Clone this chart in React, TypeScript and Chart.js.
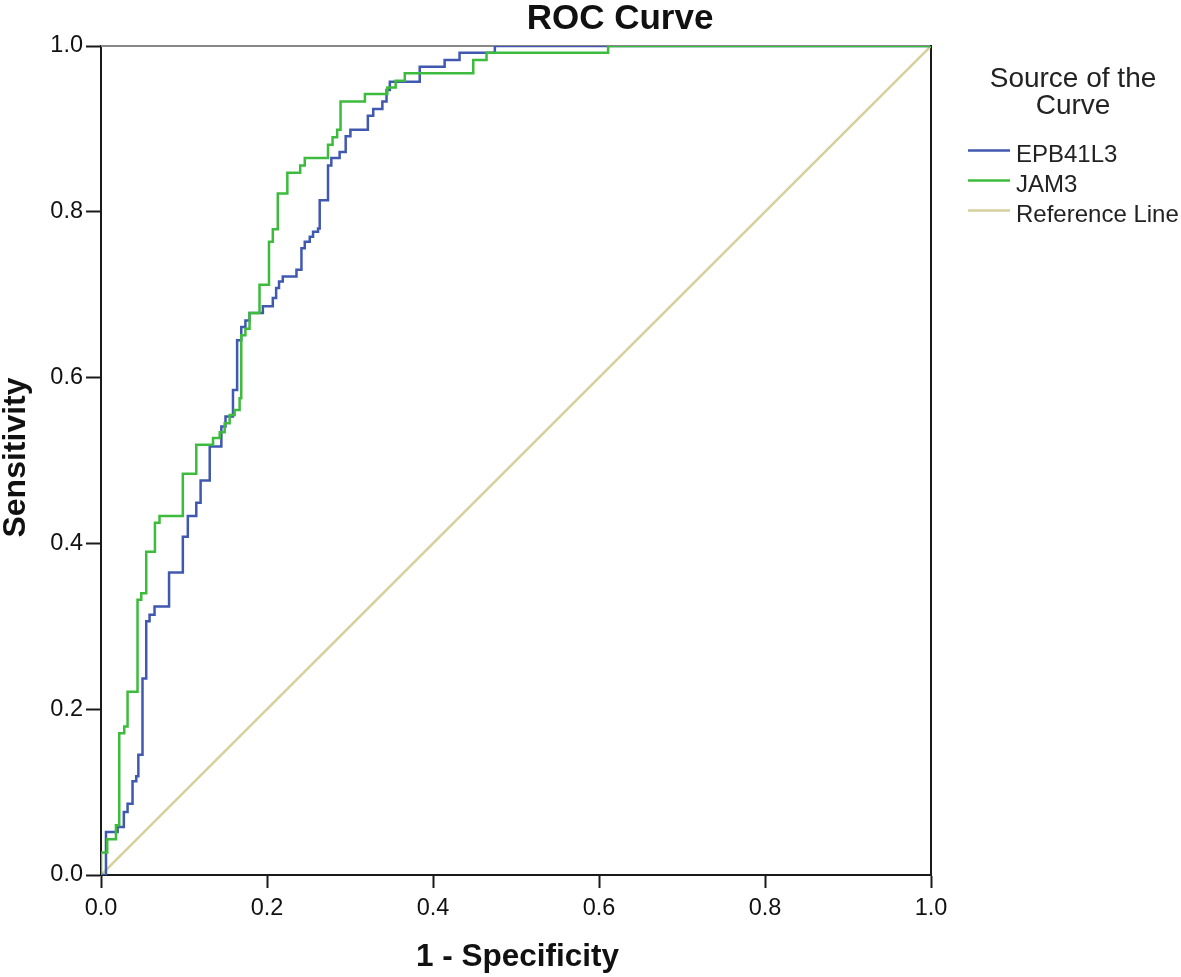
import React, { useEffect, useRef } from 'react';
import { Chart, registerables } from 'chart.js';

Chart.register(...registerables);

// ---- Data ----
const epbFpr = [0, 0.006, 0.020, 0.0275, 0.032, 0.038, 0.0425, 0.045, 0.050, 0.0545, 0.0585, 0.0645, 0.082, 0.0986, 0.1046, 0.1148, 0.120, 0.131, 0.145, 0.150, 0.159, 0.164, 0.169, 0.174, 0.179, 0.195, 0.207, 0.211, 0.2145, 0.219, 0.2355, 0.2415, 0.2455, 0.2515, 0.2555, 0.2615, 0.2635, 0.2735, 0.2775, 0.2875, 0.2948, 0.3005, 0.3215, 0.328, 0.339, 0.344, 0.348, 0.384, 0.414, 0.432, 0.4745, 1.0];
const epbTpr = [0, 0.052, 0.058, 0.076, 0.086, 0.113, 0.119, 0.145, 0.237, 0.306, 0.314, 0.324, 0.365, 0.408, 0.433, 0.449, 0.476, 0.517, 0.541, 0.553, 0.585, 0.645, 0.661, 0.669, 0.678, 0.686, 0.696, 0.708, 0.716, 0.722, 0.730, 0.756, 0.764, 0.770, 0.776, 0.780, 0.814, 0.856, 0.865, 0.872, 0.891, 0.899, 0.916, 0.924, 0.933, 0.947, 0.957, 0.975, 0.983, 0.992, 1.0, 1.0];

const jamFpr = [0, 0, 0.0075, 0.018, 0.022, 0.028, 0.032, 0.044, 0.0485, 0.0545, 0.065, 0.0705, 0.0986, 0.1148, 0.135, 0.143, 0.149, 0.155, 0.161, 0.167, 0.169, 0.174, 0.179, 0.191, 0.2024, 0.207, 0.213, 0.2245, 0.240, 0.2455, 0.2735, 0.279, 0.2845, 0.2886, 0.318, 0.345, 0.355, 0.366, 0.4485, 0.4645, 0.611, 1.0];
const jamTpr = [0, 0.027, 0.043, 0.060, 0.171, 0.179, 0.221, 0.332, 0.340, 0.390, 0.425, 0.433, 0.484, 0.519, 0.527, 0.534, 0.545, 0.555, 0.561, 0.575, 0.651, 0.659, 0.678, 0.712, 0.764, 0.779, 0.822, 0.847, 0.856, 0.865, 0.881, 0.890, 0.899, 0.933, 0.942, 0.950, 0.958, 0.967, 0.983, 0.992, 1.0, 1.0];

const refFpr = [0, 1];
const refTpr = [0, 1];

const tickValues = [0, 0.2, 0.4, 0.6, 0.8, 1.0];
const seriesNames = ['EPB41L3', 'JAM3', 'Reference Line'];
const seriesColors = ['#4058b0', '#3dbb3d', '#d6d09c'];
const legendTitle = ['Source of the', 'Curve'];
const chartTitle = 'ROC Curve';
const xTitle = '1 - Specificity';
const yTitle = 'Sensitivity';

const FONT = '"Liberation Sans", Arial, sans-serif';

export default function App() {
  const ref = useRef<HTMLCanvasElement>(null);

  useEffect(() => {
    const canvas = ref.current;
    if (!canvas) return;
    const toPts = (xs: number[], ys: number[]) => xs.map((x, i) => ({ x, y: ys[i] }));

    const framePlugin = {
      id: 'rocFrame',
      beforeDatasetsDraw(chart: any) {
        const { ctx, chartArea: a } = chart;
        ctx.save();
        ctx.lineWidth = 2;
        ctx.strokeStyle = '#888888';
        ctx.beginPath();
        ctx.moveTo(a.left, a.top);
        ctx.lineTo(a.right, a.top);
        ctx.stroke();
        ctx.strokeStyle = '#1a1a1a';
        ctx.beginPath();
        ctx.moveTo(a.right, a.top - 1);
        ctx.lineTo(a.right, a.bottom);
        ctx.stroke();
        ctx.restore();
      },
      afterDraw(chart: any) {
        const { ctx, chartArea: a } = chart;
        ctx.save();
        ctx.fillStyle = '#111';
        // Title
        ctx.font = `bold 35px ${FONT}`;
        ctx.textAlign = 'center';
        ctx.textBaseline = 'alphabetic';
        ctx.fillText(chartTitle, 620, 29);
        // X title
        ctx.font = `bold 31.5px ${FONT}`;
        ctx.fillText(xTitle, 517.5, 966);
        // Y title
        ctx.font = `bold 32px ${FONT}`;
        ctx.save();
        ctx.translate(25, 457.5);
        ctx.rotate(-Math.PI / 2);
        ctx.fillText(yTitle, 0, 0);
        ctx.restore();
        // Legend
        ctx.font = `28px ${FONT}`;
        ctx.fillStyle = '#222';
        ctx.fillText(legendTitle[0], 1073, 86.5);
        ctx.fillText(legendTitle[1], 1073, 113.5);
        ctx.textAlign = 'left';
        ctx.font = `24px ${FONT}`;
        const lineYs = [150.5, 180.5, 210.5];
        const baseYs = [162, 192, 222];
        seriesNames.forEach((name, i) => {
          ctx.strokeStyle = seriesColors[i];
          ctx.lineWidth = 2.5;
          ctx.beginPath();
          ctx.moveTo(968, lineYs[i]);
          ctx.lineTo(1010, lineYs[i]);
          ctx.stroke();
          ctx.fillStyle = '#222';
          ctx.fillText(name, 1016, baseYs[i]);
        });
        ctx.restore();
      },
    };

    const chart = new Chart(canvas, {
      type: 'scatter',
      data: {
        datasets: [
          {
            label: seriesNames[1],
            data: toPts(jamFpr, jamTpr),
            showLine: true,
            stepped: 'before',
            borderColor: seriesColors[1],
            borderWidth: 2.5,
            pointRadius: 0,
            order: 1,
          },
          {
            label: seriesNames[0],
            data: toPts(epbFpr, epbTpr),
            showLine: true,
            stepped: 'before',
            borderColor: seriesColors[0],
            borderWidth: 2.5,
            pointRadius: 0,
            order: 2,
          },
          {
            label: seriesNames[2],
            data: toPts(refFpr, refTpr),
            showLine: true,
            borderColor: seriesColors[2],
            borderWidth: 2.5,
            pointRadius: 0,
            order: 3,
          },
        ],
      },
      options: {
        responsive: false,
        animation: false,
        events: [],
        layout: { padding: { top: 46, right: 250, left: 0, bottom: 0 } },
        plugins: {
          legend: { display: false },
          title: { display: false },
          tooltip: { enabled: false },
        },
        scales: {
          x: {
            type: 'linear',
            min: 0,
            max: 1,
            afterFit: (s: any) => { s.height = 102; },
            afterBuildTicks: (s: any) => { s.ticks = tickValues.map((v) => ({ value: v })); },
            ticks: {
              callback: (v: any) => Number(v).toFixed(1),
              font: { family: FONT, size: 23.5 },
              color: '#111',
              padding: 6,
              maxRotation: 0,
            },
            grid: { drawOnChartArea: false, drawTicks: true, tickLength: 13, tickColor: '#1a1a1a', tickWidth: 2 },
            border: { display: true, color: '#1a1a1a', width: 2 },
          },
          y: {
            type: 'linear',
            min: 0,
            max: 1,
            afterFit: (s: any) => { s.width = 101; },
            afterBuildTicks: (s: any) => { s.ticks = tickValues.map((v) => ({ value: v })); },
            ticks: {
              callback: (v: any) => Number(v).toFixed(1),
              font: { family: FONT, size: 23.5 },
              color: '#111',
              padding: 3,
            },
            grid: { drawOnChartArea: false, drawTicks: true, tickLength: 15, tickColor: '#1a1a1a', tickWidth: 2 },
            border: { display: true, color: '#1a1a1a', width: 2 },
          },
        },
      },
      plugins: [framePlugin],
    } as any);

    return () => chart.destroy();
  }, []);

  return (
    <div style={{ position: 'fixed', left: 0, top: 0, width: 1181, height: 977, background: '#fff' }}>
      <canvas ref={ref} width={1181} height={977} style={{ display: 'block', width: 1181, height: 977 }} />
    </div>
  );
}
